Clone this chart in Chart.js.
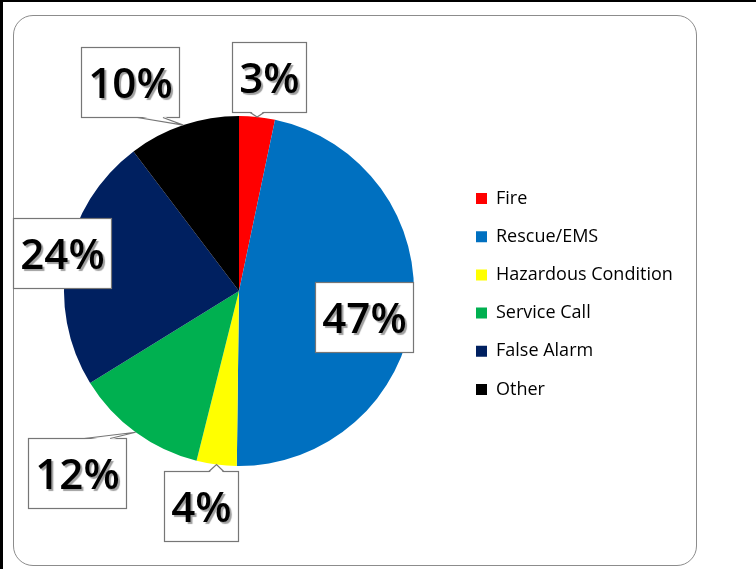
<!DOCTYPE html>
<html>
<head>
<meta charset="utf-8">
<script src="https://cdn.jsdelivr.net/npm/chart.js@4/dist/chart.umd.min.js"></script>
<style>
  html, body { margin: 0; padding: 0; background: #fff; }
  #page {
    position: relative; width: 756px; height: 569px; overflow: hidden;
    box-sizing: border-box; border-top: 2px solid #000; border-left: 3px solid #000;
  }
  #frame {
    position: absolute; left: 10px; top: 13px; width: 684px; height: 551px;
    border: 1px solid #8c8c8c; border-radius: 20px; box-sizing: border-box;
  }
  #chart { position: absolute; left: -3px; top: -2px; }
</style>
</head>
<body>
<div id="page">
  <div id="frame"></div>
  <canvas id="chart" width="756" height="569"></canvas>
</div>
<script>
// Tipos de chamada e participação (%)
const categories = ['Fire', 'Rescue/EMS', 'Hazardous Condition', 'Service Call', 'False Alarm', 'Other'];
const callShares = [3.3, 46.9, 3.7, 12.3, 23.5, 10.3];
const sliceColors = ['#FF0000', '#0070C0', '#FFFF00', '#00B050', '#002060', '#000000'];

const legendFont = { family: "'Open Sans', sans-serif", size: 18 };
const legendPad = 20.2;
const legendBox = 11;

// largura do texto mais longo da legenda, para encaixar a área do gráfico
const probe = document.createElement('canvas').getContext('2d');
probe.font = legendFont.size + 'px "Open Sans"';
const widest = Math.max(...categories.map(c => probe.measureText(c).width));
const legendLeft = 476 - legendPad;
const legendWidth = legendPad + legendBox + legendFont.size / 2 + widest + 10;

const labelFont = '600 42px "Open Sans"';

/**
 * Desenha as caixas de rótulo (estilo "callout") com a porcentagem de cada fatia.
 */
const calloutPlugin = {
  id: 'callouts',
  afterDatasetsDraw(chart, args, opts) {
    const ctx = chart.ctx;
    const meta = chart.getDatasetMeta(0);
    const total = callShares.reduce((a, b) => a + b, 0);
    const clamp = (v, lo, hi) => Math.max(lo, Math.min(hi, v));
    ctx.save();
    meta.data.forEach((arc, i) => {
      const { x, y, startAngle, endAngle, outerRadius } =
        arc.getProps(['x', 'y', 'startAngle', 'endAngle', 'outerRadius'], true);
      const mid = (startAngle + endAngle) / 2;
      const p = opts.place[i];
      const a = mid + p.turn * Math.PI / 180;
      const cx = x + Math.cos(a) * outerRadius * p.dist;
      const cy = y + Math.sin(a) * outerRadius * p.dist;
      const txt = Math.round(callShares[i] / total * 100) + '%';

      ctx.font = labelFont;
      const w = Math.round(ctx.measureText(txt).width + 2 * opts.padX);
      const h = opts.boxH;
      const L = Math.round(cx - w / 2) + 0.5, T = Math.round(cy - h / 2) + 0.5;
      const R = L + w, B = T + h;

      // caixa
      ctx.shadowColor = 'transparent';
      ctx.fillStyle = '#fff';
      ctx.strokeStyle = '#767676';
      ctx.lineWidth = 1.2;
      ctx.fillRect(L, T, w, h);
      ctx.strokeRect(L, T, w, h);

      // ponteiro até a borda da fatia
      const ax = x + Math.cos(mid) * outerRadius;
      const ay = y + Math.sin(mid) * outerRadius;
      let b1 = null, b2 = null, inset = null;
      if (ay > B || ay < T) {
        const bx = clamp(ax, L + w * 0.3, R - w * 0.3);
        const by = ay > B ? B : T;
        const hw = Math.min(13, 6 + Math.hypot(ax - bx, ay - by) * 0.2);
        b1 = [bx - hw, by]; b2 = [bx + hw, by];
        inset = [0, ay > B ? -1.5 : 1.5];
      } else if (ax > R || ax < L) {
        const by = clamp(ay, T + h * 0.3, B - h * 0.3);
        const bx = ax > R ? R : L;
        const hw = Math.min(13, 6 + Math.hypot(ax - bx, ay - by) * 0.2);
        b1 = [bx, by - hw]; b2 = [bx, by + hw];
        inset = [ax > R ? -1.5 : 1.5, 0];
      }
      if (b1) {
        ctx.beginPath();
        ctx.moveTo(b1[0] + inset[0], b1[1] + inset[1]);
        ctx.lineTo(ax, ay);
        ctx.lineTo(b2[0] + inset[0], b2[1] + inset[1]);
        ctx.closePath();
        ctx.fill();
        ctx.beginPath();
        ctx.moveTo(b1[0], b1[1]);
        ctx.lineTo(ax, ay);
        ctx.lineTo(b2[0], b2[1]);
        ctx.stroke();
      }

      // texto com sombra
      ctx.textAlign = 'center';
      ctx.textBaseline = 'alphabetic';
      ctx.shadowColor = 'rgba(0,0,0,0.38)';
      ctx.shadowOffsetX = 2;
      ctx.shadowOffsetY = 2;
      ctx.shadowBlur = 1;
      ctx.fillStyle = '#000';
      ctx.fillText(txt, L + w / 2, T + h / 2 + 15);
    });
    ctx.restore();
  }
};

new Chart(document.getElementById('chart'), {
  type: 'pie',
  data: {
    labels: categories,
    datasets: [{
      data: callShares,
      backgroundColor: sliceColors,
      borderWidth: 0
    }]
  },
  options: {
    responsive: false,
    animation: false,
    events: [],
    layout: {
      padding: { left: 2 * 239 - legendLeft, top: 116, bottom: 103, right: 756 - legendLeft - legendWidth }
    },
    plugins: {
      legend: {
        position: 'right',
        align: 'center',
        // título vazio só para descer a legenda alguns pixels
        title: { display: true, text: '', padding: 0, font: { size: 5 } },
        labels: {
          boxWidth: legendBox,
          boxHeight: legendBox,
          padding: legendPad,
          color: '#000',
          font: legendFont
        }
      },
      tooltip: { enabled: false },
      callouts: {
        padX: 7,
        boxH: 70,
        place: [
          { dist: 1.234, turn: 2 },
          { dist: 0.73, turn: 5.4 },
          { dist: 1.246, turn: 2.6 },
          { dist: 1.389, turn: 5.5 },
          { dist: 1.034, turn: 1.4 },
          { dist: 1.349, turn: -9 }
        ]
      }
    }
  },
  plugins: [calloutPlugin]
});
</script>
</body>
</html>
